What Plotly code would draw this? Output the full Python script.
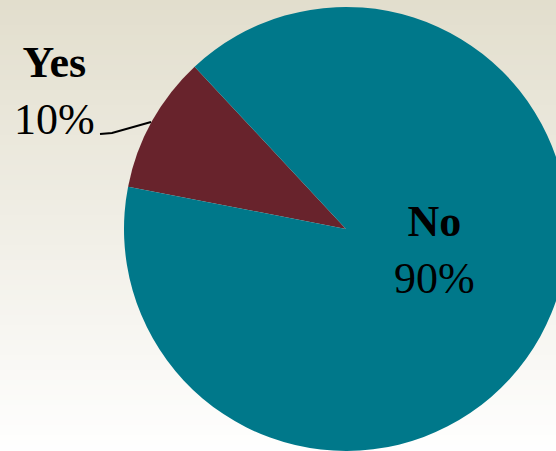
import plotly.graph_objects as go

# Survey answer split
labels = ["Yes", "No"]
values = [10, 90]
colors = ["#68232C", "#00788A"]

# The canvas is a little larger than the visible window so the pie can run off the right edge
FIG_W, FIG_H = 600, 460
CX, CY, R = 346, 229, 222          # pie centre and radius in pixels
FONT = "Liberation Serif"
FONT_SIZE = 44


def to_paper(x, y):
    """Pixel position (from the top-left corner) to paper coordinates."""
    return x / FIG_W, 1 - y / FIG_H


total = sum(values)
pct = [round(100 * v / total) for v in values]

fig = go.Figure(
    go.Pie(
        labels=labels,
        values=values,
        sort=False,
        direction="clockwise",
        rotation=281,
        marker=dict(colors=colors, line=dict(width=0)),
        textinfo="none",
        hoverinfo="label+percent",
        showlegend=False,
        domain=dict(
            x=[(CX - R) / FIG_W, (CX + R) / FIG_W],
            y=[1 - (CY + R) / FIG_H, 1 - (CY - R) / FIG_H],
        ),
    )
)

# Vertical beige-to-white background gradient built from thin bands
top_rgb = (226, 222, 205)
bot_rgb = (255, 255, 255)
n_bands = 92
shapes = []
for i in range(n_bands):
    t = i / (n_bands - 1)
    c = tuple(round(a + (b - a) * t) for a, b in zip(top_rgb, bot_rgb))
    y1 = 1 - i / n_bands
    y0 = 1 - (i + 1) / n_bands
    shapes.append(dict(
        type="rect", xref="paper", yref="paper", x0=0, x1=1, y0=y0 - 0.001, y1=y1,
        fillcolor=f"rgb{c}", line=dict(width=0), layer="below",
    ))

# Leader line from the "Yes" label to the edge of its slice
pts = [to_paper(100, 134), to_paper(112, 133), to_paper(151, 122)]
path = "M " + " L ".join(f"{x:.5f},{y:.5f}" for x, y in pts)
shapes.append(dict(type="path", xref="paper", yref="paper", path=path,
                   line=dict(color="black", width=2), layer="above"))

yes_x, yes_y = to_paper(55, 91)
no_x, no_y = to_paper(434, 250)
annotations = [
    dict(x=yes_x, y=yes_y, xref="paper", yref="paper", showarrow=False,
         xanchor="center", yanchor="middle",
         text=f"<b>{labels[0]}</b><br>{pct[0]}%",
         font=dict(family=FONT, size=FONT_SIZE, color="black"), align="center"),
    dict(x=no_x, y=no_y, xref="paper", yref="paper", showarrow=False,
         xanchor="center", yanchor="middle",
         text=f"<b>{labels[1]}</b><br>{pct[1]}%",
         font=dict(family=FONT, size=FONT_SIZE, color="black"), align="center"),
]

fig.update_layout(
    width=FIG_W,
    height=FIG_H,
    margin=dict(l=0, r=0, t=0, b=0),
    paper_bgcolor="white",
    plot_bgcolor="white",
    shapes=shapes,
    annotations=annotations,
)

fig.write_html(
    "out.html",
    config={"displayModeBar": False},
    post_script="document.documentElement.style.overflow='hidden';"
                "document.body.style.overflow='hidden';",
)
